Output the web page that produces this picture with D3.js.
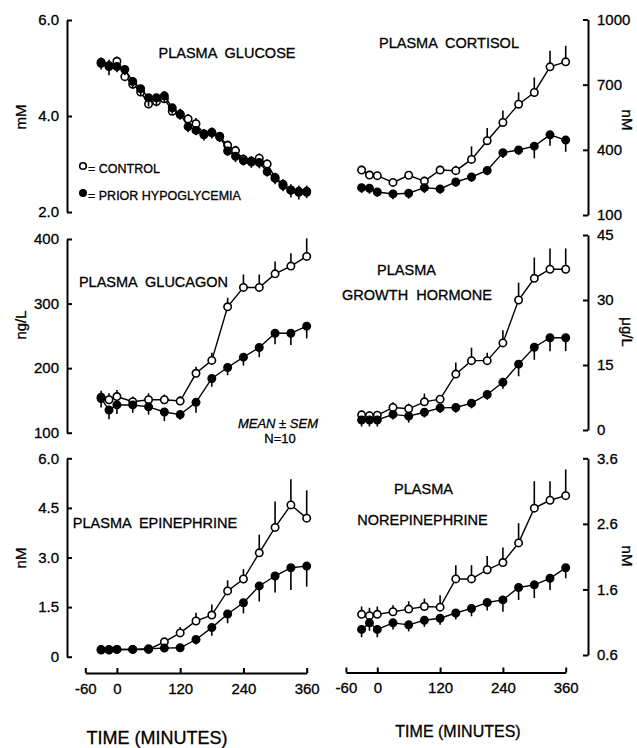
<!DOCTYPE html>
<html>
<head>
<meta charset="utf-8">
<script src="https://cdn.jsdelivr.net/npm/d3@7"></script>
<style>
  body { margin: 0; background: #fff; }
  text { font-family: "Liberation Sans", Arial, sans-serif; fill: #000; stroke: #000; stroke-width: 0.3px; }
</style>
</head>
<body>
<div id="chart"></div>
<script>
'use strict';

// sampling times (minutes)
var glucoseTimes = [-30, -15, 0, 15, 30, 45, 60, 75, 90, 105, 120, 135, 150, 165, 180, 195, 210, 225, 240, 255, 270, 285, 300, 315, 330, 345, 360]
var times = [-30, -15, 0, 30, 60, 90, 120, 150, 180, 210, 240, 270, 300, 330, 360]
var timeTicks = [-60, 0, 120, 240, 360]

// plasma glucose, mM
var glucoseControl = [5.10, 5.05, 5.14, 4.82, 4.66, 4.50, 4.25, 4.30, 4.36, 4.10, 4.03, 3.94, 3.84, 3.63, 3.66, 3.56, 3.39, 3.28, 3.10, 3.06, 3.12, 3.00, 2.72, 2.58, 2.46, 2.43, 2.43]
var glucoseControlSem = [0.12, 0.12, 0.10, 0.12, 0.12, 0.12, 0.15, 0.15, 0.15, 0.12, 0.12, 0.10, 0.12, 0.10, 0.10, 0.10, 0.10, 0.10, 0.10, 0.10, 0.10, 0.10, 0.10, 0.10, 0.12, 0.12, 0.12]
var glucoseHypo = [5.12, 5.03, 5.03, 4.97, 4.72, 4.57, 4.38, 4.38, 4.42, 4.17, 4.04, 3.78, 3.70, 3.61, 3.65, 3.58, 3.27, 3.16, 3.07, 3.04, 3.03, 2.84, 2.70, 2.55, 2.45, 2.41, 2.41]
var glucoseHypoSem = [0.15, 0.18, 0.12, 0.12, 0.15, 0.15, 0.18, 0.18, 0.15, 0.12, 0.12, 0.12, 0.10, 0.12, 0.12, 0.12, 0.10, 0.12, 0.10, 0.12, 0.12, 0.10, 0.12, 0.12, 0.15, 0.15, 0.12]

// plasma cortisol, nM
var cortisolControl = [307, 284, 281, 250, 283, 256, 307, 304, 356, 442, 526, 610, 664, 782, 805]
var cortisolControlSem = [20, 20, 18, 15, 18, 20, 20, 23, 60, 58, 55, 55, 69, 74, 74]
var cortisolHypo = [226, 223, 206, 197, 200, 226, 220, 252, 275, 305, 387, 399, 417, 469, 445]
var cortisolHypoSem = [25, 25, 22, 25, 25, 25, 22, 22, 22, 22, 25, 23, 56, 50, 54]

// plasma glucagon, ng/L
var glucagonControl = [155, 151, 156, 148, 151, 151, 149, 192, 212, 295, 325, 325, 346, 358, 373]
var glucagonControlSem = [10, 10, 10, 8, 10, 8, 8, 10, 12, 14, 20, 20, 19, 20, 28]
var glucagonHypo = [153, 135, 143, 143, 140, 132, 128, 147, 184, 201, 217, 232, 254, 254, 265]
var glucagonHypoSem = [14, 14, 14, 12, 12, 14, 8, 16, 13, 12, 13, 15, 17, 18, 19]

// plasma growth hormone, ug/L
var ghControl = [3.5, 3.3, 3.4, 5.2, 4.9, 6.5, 7.1, 12.9, 16.0, 16.0, 20.1, 30.0, 35.0, 37.1, 37.1]
var ghControlSem = [1.0, 1.0, 1.0, 1.2, 1.2, 1.9, 1.0, 2.7, 3.0, 1.8, 2.9, 4.0, 4.8, 4.8, 4.8]
var ghHypo = [2.3, 2.3, 2.3, 3.6, 3.2, 4.1, 5.1, 5.2, 6.2, 8.2, 11.0, 15.2, 19.1, 21.3, 21.3]
var ghHypoSem = [1.5, 1.5, 1.5, 1.2, 1.5, 1.2, 1.2, 1.2, 1.2, 1.2, 1.5, 2.8, 2.9, 3.1, 3.1]

// plasma epinephrine, nM
var epiControl = [0.22, 0.22, 0.22, 0.22, 0.22, 0.45, 0.72, 1.08, 1.26, 1.99, 2.35, 3.14, 3.91, 4.59, 4.19]
var epiControlSem = [0.08, 0.08, 0.08, 0.08, 0.08, 0.10, 0.18, 0.25, 0.32, 0.32, 0.30, 0.55, 0.78, 0.78, 0.84]
var epiHypo = [0.20, 0.20, 0.22, 0.22, 0.24, 0.26, 0.27, 0.52, 0.88, 1.29, 1.63, 2.14, 2.44, 2.69, 2.74]
var epiHypoSem = [0.10, 0.12, 0.10, 0.10, 0.10, 0.12, 0.08, 0.15, 0.25, 0.28, 0.32, 0.47, 0.50, 0.67, 0.62]

// plasma norepinephrine, nM
var neControl = [1.22, 1.20, 1.22, 1.26, 1.30, 1.34, 1.33, 1.76, 1.76, 1.90, 2.01, 2.31, 2.84, 2.96, 3.03]
var neControlSem = [0.12, 0.12, 0.12, 0.10, 0.12, 0.12, 0.18, 0.21, 0.21, 0.21, 0.23, 0.30, 0.41, 0.29, 0.40]
var neHypo = [0.99, 1.09, 0.99, 1.09, 1.06, 1.13, 1.16, 1.24, 1.31, 1.40, 1.44, 1.63, 1.67, 1.77, 1.93]
var neHypoSem = [0.12, 0.12, 0.12, 0.10, 0.10, 0.10, 0.10, 0.10, 0.12, 0.12, 0.18, 0.19, 0.20, 0.18, 0.16]

// y tick values and their printed labels
var glucoseTicks = [2, 4, 6], glucoseTickLabels = ['2.0', '4.0', '6.0']
var cortisolTicks = [100, 400, 700, 1000], cortisolTickLabels = ['100', '400', '700', '1000']
var glucagonTicks = [100, 200, 300, 400], glucagonTickLabels = ['100', '200', '300', '400']
var ghTicks = [0, 15, 30, 45], ghTickLabels = ['0', '15', '30', '45']
var epiTicks = [0, 1.5, 3, 4.5, 6], epiTickLabels = ['0', '1.5', '3.0', '4.5', '6.0']
var neTicks = [0.6, 1.6, 2.6, 3.6], neTickLabels = ['0.6', '1.6', '2.6', '3.6']

var width = 637
var height = 748
var svg = d3.select('#chart').append('svg').attr('width', width).attr('height', height)

var leftAxisX = 67
var rightAxisX = 588
var xLeft = d3.scaleLinear().domain([-60, 360]).range([85.3, 306.7])
var xRight = d3.scaleLinear().domain([-60, 360]).range([345.9, 565.7])

var panels = [
    { side: 'left', x: xLeft, t: glucoseTimes, dom: [2, 6], rng: [212, 20], ticks: glucoseTicks, labels: glucoseTickLabels,
      ctrl: glucoseControl, ctrlSem: glucoseControlSem, hypo: glucoseHypo, hypoSem: glucoseHypoSem, unit: 'mM', unitY: 117 },
    { side: 'right', x: xRight, t: times, dom: [100, 1000], rng: [215, 19.5], ticks: cortisolTicks, labels: cortisolTickLabels,
      ctrl: cortisolControl, ctrlSem: cortisolControlSem, hypo: cortisolHypo, hypoSem: cortisolHypoSem, unit: 'nM', unitY: 120 },
    { side: 'left', x: xLeft, t: times, dom: [100, 400], rng: [432.7, 239], ticks: glucagonTicks, labels: glucagonTickLabels,
      ctrl: glucagonControl, ctrlSem: glucagonControlSem, hypo: glucagonHypo, hypoSem: glucagonHypoSem, unit: 'ng/L', unitY: 325 },
    { side: 'right', x: xRight, t: times, dom: [0, 45], rng: [430, 235], ticks: ghTicks, labels: ghTickLabels,
      ctrl: ghControl, ctrlSem: ghControlSem, hypo: ghHypo, hypoSem: ghHypoSem, unit: 'μg/L', unitY: 332 },
    { side: 'left', x: xLeft, t: times, dom: [0, 6], rng: [656.7, 458.3], ticks: epiTicks, labels: epiTickLabels,
      ctrl: epiControl, ctrlSem: epiControlSem, hypo: epiHypo, hypoSem: epiHypoSem, unit: 'nM', unitY: 558 },
    { side: 'right', x: xRight, t: times, dom: [0.6, 3.6], rng: [655, 458.3], ticks: neTicks, labels: neTickLabels,
      ctrl: neControl, ctrlSem: neControlSem, hypo: neHypo, hypoSem: neHypoSem, unit: 'nM', unitY: 556 }
]

function styleAxis(g) {
    g.select('.domain').attr('stroke', '#000').attr('stroke-width', 2)
    g.selectAll('.tick line').attr('stroke', '#000').attr('stroke-width', 2)
    g.selectAll('.tick text').style('font-size', '15px').attr('fill', '#000')
}

panels.forEach(function(p) {
    var y = d3.scaleLinear().domain(p.dom).range(p.rng)
    var x = p.x
    var axis, ax
    if (p.side === 'left') {
        axis = d3.axisLeft(y).tickSizeInner(-5).tickSizeOuter(0).tickPadding(8)
        ax = leftAxisX
    } else {
        axis = d3.axisRight(y).tickSizeInner(-5).tickSizeOuter(0).tickPadding(9)
        ax = rightAxisX
    }
    axis.tickValues(p.ticks).tickFormat(function(d, i) { return p.labels[i] })
    svg.append('g')
        .attr('transform', 'translate(' + ax + ',0)')
        .call(axis)
        .call(styleAxis)

    // unit label
    var ux = p.side === 'left' ? 21 : 627
    svg.append('text')
        .attr('transform', 'translate(' + ux + ',' + p.unitY + ') rotate(' + (p.side === 'left' ? -90 : 90) + ')')
        .attr('text-anchor', 'middle')
        .attr('dy', '0.35em')
        .style('font-size', '15px')
        .text(p.unit)

    var line = d3.line()
        .x(function(d) { return x(d[0]) })
        .y(function(d) { return y(d[1]) })

    var series = [
        { vals: p.ctrl, sem: p.ctrlSem, dir: 1, fill: '#fff' },
        { vals: p.hypo, sem: p.hypoSem, dir: -1, fill: '#000' }
    ]
    series.forEach(function(s) {
        var pts = p.t.map(function(t, i) { return [t, s.vals[i], s.sem[i]] })
        var g = svg.append('g')
        g.append('path')
            .datum(pts)
            .attr('d', line)
            .attr('fill', 'none')
            .attr('stroke', '#000')
            .attr('stroke-width', 1.4)
        // error bars: control up, prior hypoglycemia down
        g.selectAll('.err').data(pts).enter().append('line')
            .attr('x1', function(d) { return x(d[0]) })
            .attr('x2', function(d) { return x(d[0]) })
            .attr('y1', function(d) { return y(d[1]) })
            .attr('y2', function(d) { return y(d[1] + s.dir * d[2]) })
            .attr('stroke', '#000')
            .attr('stroke-width', 1.6)
        g.selectAll('circle').data(pts).enter().append('circle')
            .attr('cx', function(d) { return x(d[0]) })
            .attr('cy', function(d) { return y(d[1]) })
            .attr('r', 3.7)
            .attr('fill', s.fill)
            .attr('stroke', '#000')
            .attr('stroke-width', 1.6)
    })
})

// time axes at the bottom
;[{ x: xLeft, y: 673 }, { x: xRight, y: 672.5 }].forEach(function(a) {
    svg.append('g')
        .attr('transform', 'translate(0,' + a.y + ')')
        .call(d3.axisBottom(a.x).tickValues(timeTicks).tickSizeInner(-5).tickSizeOuter(0).tickPadding(10)
            .tickFormat(function(d) { return d < 0 ? '-' + Math.abs(d) : d }))
        .call(styleAxis)
})

svg.append('text').attr('x', 157).attr('y', 744).attr('text-anchor', 'middle').style('font-size', '18px').text('TIME (MINUTES)')
svg.append('text').attr('x', 458).attr('y', 737).attr('text-anchor', 'middle').style('font-size', '16px').text('TIME (MINUTES)')

// panel titles
function title(x, y, str) {
    svg.append('text').attr('x', x).attr('y', y).attr('text-anchor', 'middle')
        .style('font-size', '14.5px').style('white-space', 'pre').text(str)
}
title(227, 57.5, 'PLASMA  GLUCOSE')
title(449, 48, 'PLASMA  CORTISOL')
title(153.5, 286.5, 'PLASMA  GLUCAGON')
title(406.5, 275, 'PLASMA')
title(417, 300, 'GROWTH  HORMONE')
title(155, 528, 'PLASMA  EPINEPHRINE')
title(423.5, 494, 'PLASMA')
title(422.5, 525, 'NOREPINEPHRINE')

// legend
svg.append('circle').attr('cx', 83).attr('cy', 166).attr('r', 3.3).attr('fill', '#fff').attr('stroke', '#000').attr('stroke-width', 1.6)
svg.append('text').attr('x', 88).attr('y', 172.5).style('font-size', '12.5px').style('white-space', 'pre').text('= CONTROL')
svg.append('circle').attr('cx', 83).attr('cy', 193).attr('r', 4).attr('fill', '#000')
svg.append('text').attr('x', 88).attr('y', 200).style('font-size', '12.5px').style('white-space', 'pre').text('= PRIOR HYPOGLYCEMIA')

svg.append('text').attr('x', 278).attr('y', 428).attr('text-anchor', 'middle').style('font-size', '13px').style('font-style', 'italic').text('MEAN \u00b1 SEM')
svg.append('text').attr('x', 280).attr('y', 443).attr('text-anchor', 'middle').style('font-size', '13px').text('N=10')
</script>
</body>
</html>
